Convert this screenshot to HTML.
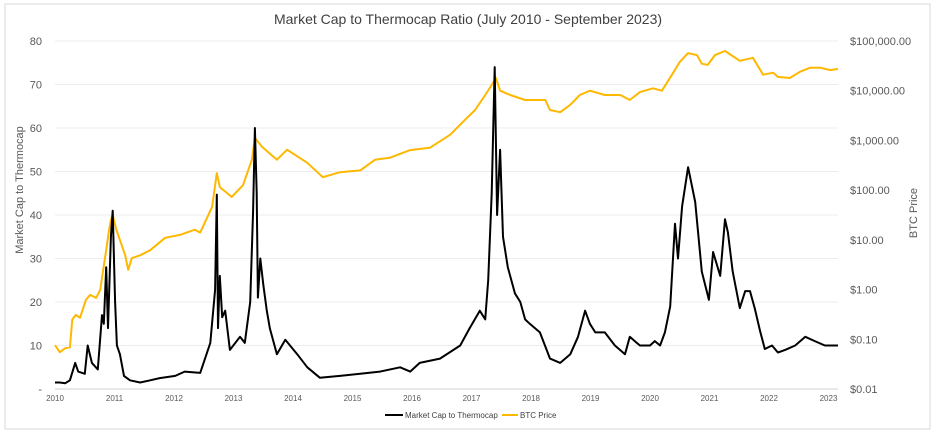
<!DOCTYPE html>
<html><head><meta charset="utf-8"><style>
body{margin:0;background:#fff;}
svg{display:block;font-family:"Liberation Sans",sans-serif;}
</style></head><body>
<svg id="chart" width="936" height="434" viewBox="0 0 936 434">
<rect x="5" y="4" width="925" height="425" fill="#fff" stroke="#d9d9d9"/>
<text x="468" y="24" text-anchor="middle" font-size="14" fill="#404040">Market Cap to Thermocap Ratio (July 2010 - September 2023)</text>
<g id="grid"></g><g id="xaxis"></g><g id="yleft"></g><g id="yright"></g><g id="series"></g>
<text transform="translate(23,190) rotate(-90)" text-anchor="middle" font-size="11" fill="#595959">Market Cap to Thermocap</text>
<text transform="translate(917,213) rotate(-90)" text-anchor="middle" font-size="11" fill="#595959">BTC Price</text>
<g>
<g><line x1="385" y1="415" x2="403" y2="415" stroke="#000" stroke-width="2"/><text x="405" y="418" font-size="8" fill="#404040">Market Cap to Thermocap</text></g>
<g><line x1="502" y1="415" x2="518" y2="415" stroke="#ffb800" stroke-width="2"/><text x="520" y="418" font-size="8" fill="#404040">BTC Price</text></g>
</g>
</svg>
<script>
const xTicks=[2010,2011,2012,2013,2014,2015,2016,2017,2018,2019,2020,2021,2022,2023];
const leftTicks=[0,10,20,30,40,50,60,70,80];
const leftTickLabels=["-","10","20","30","40","50","60","70","80"];
const rightTicks=[0.01,0.1,1,10,100,1000,10000,100000];
const rightTickLabels=["$0.01","$0.10","$1.00","$10.00","$100.00","$1,000.00","$10,000.00","$100,000.00"];
const ratioDates=[2010.00,2010.08,2010.17,2010.25,2010.34,2010.39,2010.50,2010.55,2010.62,2010.72,2010.79,2010.82,2010.86,2010.89,2010.94,2010.97,2011.01,2011.04,2011.09,2011.16,2011.26,2011.43,2011.60,2011.76,2012.02,2012.18,2012.44,2012.61,2012.69,2012.72,2012.74,2012.77,2012.81,2012.86,2012.94,2013.11,2013.19,2013.28,2013.33,2013.36,2013.39,2013.41,2013.45,2013.50,2013.56,2013.61,2013.73,2013.87,2014.07,2014.24,2014.45,2014.79,2015.13,2015.46,2015.80,2015.97,2016.13,2016.47,2016.81,2016.97,2017.14,2017.23,2017.28,2017.34,2017.39,2017.43,2017.48,2017.53,2017.61,2017.73,2017.82,2017.90,2017.98,2018.15,2018.32,2018.49,2018.66,2018.79,2018.91,2018.99,2019.08,2019.24,2019.41,2019.58,2019.66,2019.83,2020.00,2020.08,2020.17,2020.25,2020.34,2020.42,2020.47,2020.54,2020.64,2020.76,2020.87,2020.99,2021.06,2021.18,2021.26,2021.31,2021.39,2021.51,2021.60,2021.68,2021.76,2021.85,2021.93,2022.05,2022.15,2022.27,2022.44,2022.61,2022.77,2022.94,2023.16];
const ratioValues=[1.5,1.5,1.3,2,6,4,3.5,10,6,4.5,17,15,28,14,35,41,20,10,8,3,2,1.5,2,2.5,3,4,3.7,10.6,22.8,44.7,14,26,16.5,18,9,12,10.6,20,41,60,45,21,30,24,18,14,8,11.3,8,5,2.6,3,3.5,4,5,4,6,7,10,14,18,16,25,45,74,40,55,35,28,22,20,16,15,13,7,6,8,12,18,15,13,13,10,8,12,10,10,11,10,13,19,38,30,42,51,43,27,20.5,31.5,26,39,36,27,18.6,22.5,22.5,18.6,13.3,9.2,10,8.4,9,10,12,11,10,10];
const priceDates=[2010.00,2010.08,2010.17,2010.25,2010.29,2010.35,2010.42,2010.52,2010.59,2010.69,2010.76,2010.81,2010.86,2010.91,2010.94,2010.97,2011.03,2011.09,2011.18,2011.23,2011.29,2011.43,2011.60,2011.85,2012.10,2012.35,2012.44,2012.64,2012.72,2012.77,2012.97,2013.16,2013.31,2013.36,2013.48,2013.73,2013.90,2014.24,2014.50,2014.79,2015.13,2015.38,2015.63,2015.97,2016.30,2016.64,2016.89,2017.06,2017.23,2017.34,2017.41,2017.48,2017.65,2017.90,2018.24,2018.32,2018.49,2018.66,2018.82,2018.99,2019.24,2019.50,2019.66,2019.83,2020.05,2020.20,2020.39,2020.50,2020.64,2020.79,2020.87,2020.97,2021.09,2021.26,2021.51,2021.73,2021.90,2022.07,2022.15,2022.35,2022.52,2022.69,2022.86,2023.03,2023.16];
const priceValues=[0.076,0.055,0.066,0.069,0.25,0.31,0.27,0.62,0.78,0.68,0.98,2.5,6.2,16,25,32,16,10,4.9,2.5,4.3,4.9,6.2,11,12.6,16,14,46,220,115,73,126,410,1120,740,410,650,355,182,230,250,410,450,640,710,1300,2600,4100,8200,13000,18000,10000,8200,6500,6500,4100,3700,5200,8200,10000,8200,8200,6500,9400,11200,10000,23000,38000,57000,52000,35000,33000,52000,63000,40000,46000,21000,23000,19000,18000,24000,29000,29000,26000,27500];

const L=55,R=838,T=41,B=389;
const xS=d=>L+(d-2010)*59.5;
const yL=v=>B-(v-0)/80*(B-T);
const yR=v=>B-(Math.log10(v)+2)/7*(B-T);
const NS="http://www.w3.org/2000/svg";
function mk(tag,attrs,parent,txt){const e=document.createElementNS(NS,tag);for(const k in attrs)e.setAttribute(k,attrs[k]);if(txt!==undefined)e.textContent=txt;document.getElementById(parent).appendChild(e);return e;}
leftTicks.forEach((v,i)=>{
  const g=mk('line',{x1:L,x2:R,y1:yL(v),y2:yL(v),stroke:i===0?'#d0d0d0':'#ececec','stroke-width':1},'grid');
  
  
  const t=mk('text',{x:42,y:yL(v)+4,'text-anchor':'end','font-size':11,fill:'#595959'},'yleft',leftTickLabels[i]);
  
  
});
rightTicks.forEach((v,i)=>{
  const t=mk('text',{x:850,y:yR(v)+4,'font-size':11,fill:'#595959'},'yright',rightTickLabels[i]);
  
  
});
xTicks.forEach(d=>{
  const t=mk('text',{x:xS(d),y:401,'text-anchor':'middle','font-size':8,fill:'#595959'},'xaxis',String(d));
  
  
});
const pr=mk('polyline',{points:priceDates.map((d,i)=>xS(d).toFixed(1)+','+yR(priceValues[i]).toFixed(1)).join(' '),fill:'none',stroke:'#ffb800','stroke-width':2,'stroke-linejoin':'round'},'series');


const rl=mk('polyline',{points:ratioDates.map((d,i)=>xS(d).toFixed(1)+','+yL(ratioValues[i]).toFixed(1)).join(' '),fill:'none',stroke:'#000','stroke-width':2,'stroke-linejoin':'round'},'series');


</script>
</body></html>
